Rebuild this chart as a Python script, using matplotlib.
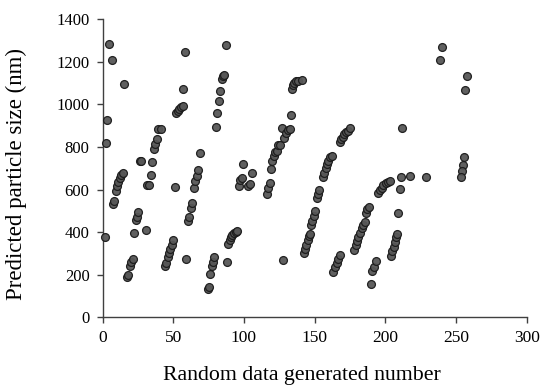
import matplotlib
matplotlib.use("Agg")
import matplotlib.pyplot as plt

x_vals = [4.6, 6.5, 15.5, 3.4, 2.4, 1.8, 7.6, 8.3, 9.3, 10.3, 11.2, 12.1, 13.3, 14.5,
          17.5, 18.3, 19.2, 20.2, 21.3, 22.3, 23.5, 24.4, 25.4, 30.5, 26.4, 27.4, 31.7, 32.9,
          34.1, 35.2, 36.2, 37.2, 38.2, 39.0, 41.3, 44.0, 44.9, 46.0, 47.0, 48.0, 49.0, 49.8,
          51.2, 51.9, 53.2, 54.1, 55.2, 56.7, 57.2, 58.1, 59.0, 60.4, 61.4, 62.4, 63.0, 64.4,
          65.4, 66.6, 67.7, 69.2,
          74.3, 75.3, 76.3, 77.1, 78.1, 79.1, 80.0, 81.2, 82.1, 82.8, 84.2, 85.2, 86.2, 87.1,
          88.2, 89.0, 90.0, 90.9, 91.7, 93.0, 94.2, 95.4, 96.2, 97.2, 98.4, 99.1, 103.1, 104.3,
          105.4, 116.0, 117.2, 118.2, 119.1, 120.0, 121.0, 122.0, 123.2, 124.3, 125.7, 127.2,
          128.5, 129.7, 130.9, 132.3, 133.2, 127.9, 133.7, 134.4, 135.6, 136.8, 138.4, 140.8,
          142.2, 143.1, 144.1, 145.0, 146.0, 146.9, 147.3, 148.3, 149.5, 150.2, 151.6, 152.5,
          153.3, 156.1, 156.8, 157.7, 158.7, 159.7, 160.6, 162.0, 167.8, 168.8, 170.0, 171.1,
          172.5, 173.7, 175.3, 163.2, 164.4, 165.5, 166.7, 167.9, 178.0, 179.0, 180.1, 180.8,
          182.0, 183.2, 184.3, 185.5, 186.0, 187.2, 188.4, 189.8, 190.7, 191.9, 193.1, 195.0,
          196.2, 197.4, 198.7, 200.2, 201.6, 203.2, 203.9, 204.9, 205.8, 206.8, 207.5, 208.1,
          209.1, 210.1, 211.0, 212.0, 217.8, 229.1, 240.2, 239.0, 257.9, 256.7, 255.8, 255.1,
          254.4, 253.2]

y_vals = [1284, 1209, 1096, 927, 817, 376, 532, 546, 593, 617, 637, 656, 668, 680,
          188, 199, 243, 258, 272, 395, 457, 473, 493, 410, 734, 734, 622, 622,
          667, 731, 789, 814, 839, 883, 885, 241, 257, 282, 304, 319, 338, 363,
          614, 961, 971, 979, 990, 993, 1074, 1246, 272, 451, 473, 514, 535, 607,
          642, 665, 692, 773,
          132, 141, 204, 241, 261, 282, 896, 958, 1015, 1065, 1121, 1135, 1140, 1278,
          258, 343, 363, 376, 385, 395, 402, 407, 618, 645, 653, 720, 618, 626,
          676, 578, 606, 633, 695, 734, 758, 777, 783, 809, 811, 891,
          842, 864, 880, 885, 949, 269, 1071, 1091, 1101, 1108, 1112, 1115,
          301, 319, 340, 363, 382, 391, 434, 454, 476, 501, 559, 579,
          598, 661, 679, 701, 720, 736, 755, 759, 825, 836, 849, 860,
          871, 877, 888, 214, 235, 254, 273, 293, 316, 338, 360, 379,
          398, 418, 432, 448, 492, 507, 520, 155, 219, 238, 266, 586,
          598, 609, 620, 630, 636, 642, 290, 310, 330, 352, 376, 391,
          492, 601, 661, 888, 665, 661, 1271, 1209, 1134, 1068, 752, 716,
          689, 661]

x_ticks = [0, 50, 100, 150, 200, 250, 300]
y_ticks = [0, 200, 400, 600, 800, 1000, 1200, 1400]

plt.rcParams['font.family'] = ['Liberation Serif', 'DejaVu Serif']

fig = plt.figure(figsize=(5.41, 3.89), dpi=100)
ax = fig.add_axes([0.1895, 0.1843, 0.7841, 0.7661])

ax.scatter(x_vals, y_vals, s=32, facecolor='#575757', edgecolor='#1a1a1a',
           linewidths=0.9, alpha=0.95, zorder=3, clip_on=False)

ax.set_xlim(0, 300)
ax.set_ylim(0, 1400)
ax.set_xticks(x_ticks)
ax.set_yticks(y_ticks)
for s in ['top', 'right']:
    ax.spines[s].set_visible(False)
for s in ['left', 'bottom']:
    ax.spines[s].set_color('#404040')
    ax.spines[s].set_linewidth(1.0)
ax.tick_params(direction='out', length=4.3, width=1.0, color='#404040')
ax.tick_params(axis='x', labelsize=12.5, pad=4.5)
ax.tick_params(axis='y', labelsize=12, pad=5)

ax.set_xlabel('Random data generated number', fontsize=15.7)
ax.xaxis.set_label_coords(0.469, -0.162)
ax.set_ylabel('Predicted particle size (nm)', fontsize=16.5)
ax.yaxis.set_label_coords(-0.178, 0.481)

fig.savefig('out.png', dpi=100)
